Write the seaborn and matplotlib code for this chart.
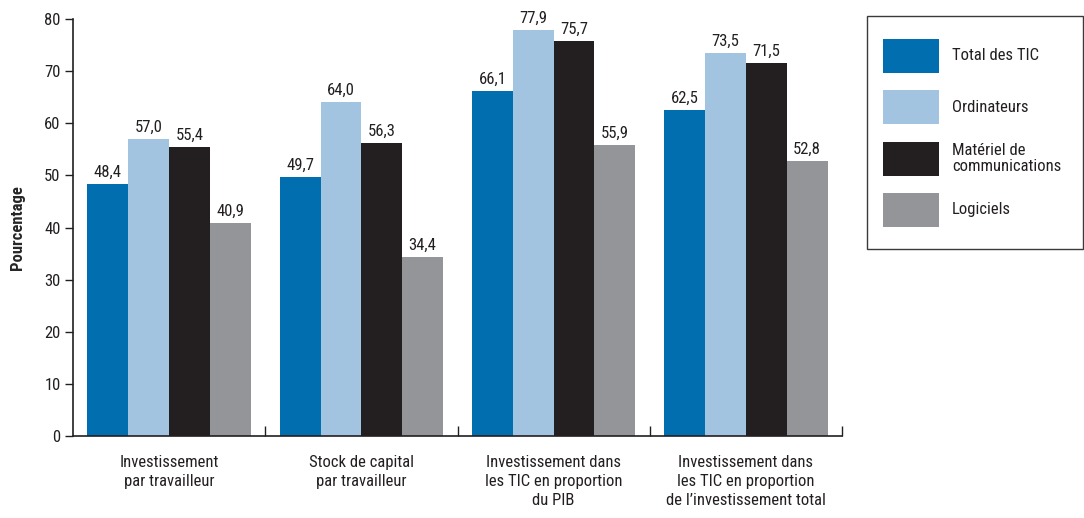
import matplotlib
matplotlib.use("Agg")
import matplotlib.pyplot as plt
from matplotlib.patches import Rectangle
from matplotlib.ticker import FixedLocator
import seaborn as sns
import pandas as pd

categories = [
    "Investissement\npar travailleur",
    "Stock de capital\npar travailleur",
    "Investissement dans\nles TIC en proportion\ndu PIB",
    "Investissement dans\nles TIC en proportion\nde l\u2019investissement total",
]
series = ["Total des TIC", "Ordinateurs", "Mat\u00e9riel de\ncommunications", "Logiciels"]
total_tic = [48.4, 49.7, 66.1, 62.5]
ordinateurs = [57.0, 64.0, 77.9, 73.5]
materiel_comm = [55.4, 56.3, 75.7, 71.5]
logiciels = [40.9, 34.4, 55.9, 52.8]
colors = ["#006EAF", "#A3C4E1", "#231F20", "#939598"]

values = [total_tic, ordinateurs, materiel_comm, logiciels]
df = pd.DataFrame(
    [(cat, s, v[i]) for s, v in zip(series, values) for i, cat in enumerate(categories)],
    columns=["categorie", "serie", "valeur"],
)

sns.set_theme(style="white")
plt.rcParams["font.family"] = ["Roboto Condensed", "DejaVu Sans"]
plt.rcParams["text.color"] = "#231F20"

fig = plt.figure(figsize=(10.84, 5.18), dpi=100)
ax = fig.add_axes([73 / 1084, 1 - 436 / 518, (842 - 73) / 1084, (436 - 19) / 518])

sns.barplot(
    data=df, x="categorie", y="valeur", hue="serie",
    order=categories, hue_order=series, palette=dict(zip(series, colors)),
    width=0.85, gap=0, saturation=1, linewidth=0, legend=False, ax=ax,
)

for cont in ax.containers:
    ax.bar_label(cont, fmt=lambda v: f"{v:.1f}".replace(".", ","), padding=3,
                 fontsize=12, color="#231F20")

ax.set_xlim(-0.5, 3.5)
ax.set_ylim(0, 80)
ax.set_yticks(range(0, 81, 10))
ax.set_xlabel("")
ax.set_ylabel("Pourcentage", fontsize=12, fontweight="bold", labelpad=14)

for side in ["top", "right"]:
    ax.spines[side].set_visible(False)
for side in ["left", "bottom"]:
    ax.spines[side].set_color("#231F20")
    ax.spines[side].set_linewidth(1.2)

ax.tick_params(axis="y", which="major", direction="out", length=6, width=1.0,
               color="#231F20", labelsize=12, labelcolor="#231F20", pad=3, left=True)
ax.tick_params(axis="x", which="major", length=0, labelsize=12, labelcolor="#231F20", pad=14)
ax.xaxis.set_minor_locator(FixedLocator([0.5, 1.5, 2.5, 3.5]))
ax.tick_params(axis="x", which="minor", direction="in", length=7, width=1.0,
               color="#231F20", bottom=True)
for lab in ax.get_xticklabels():
    lab.set_linespacing(1.3)

# legend box
W, H = 1084, 518
fig.add_artist(Rectangle((867 / W, 1 - 249 / H), (1083 - 867) / W, (249 - 16) / H,
                         transform=fig.transFigure, facecolor="white",
                         edgecolor="#3a3a3a", linewidth=1.0))
for k, (s, c) in enumerate(zip(series, colors)):
    y_top = 39 + k * 51.3
    fig.add_artist(Rectangle((883 / W, 1 - (y_top + 34) / H), 56 / W, 34 / H,
                             transform=fig.transFigure, facecolor=c, edgecolor="none"))
    fig.text(952 / W, 1 - (y_top + 17) / H, s, fontsize=12, va="center", ha="left",
             linespacing=1.1, color="#231F20")

fig.savefig("out.png", dpi=100)
